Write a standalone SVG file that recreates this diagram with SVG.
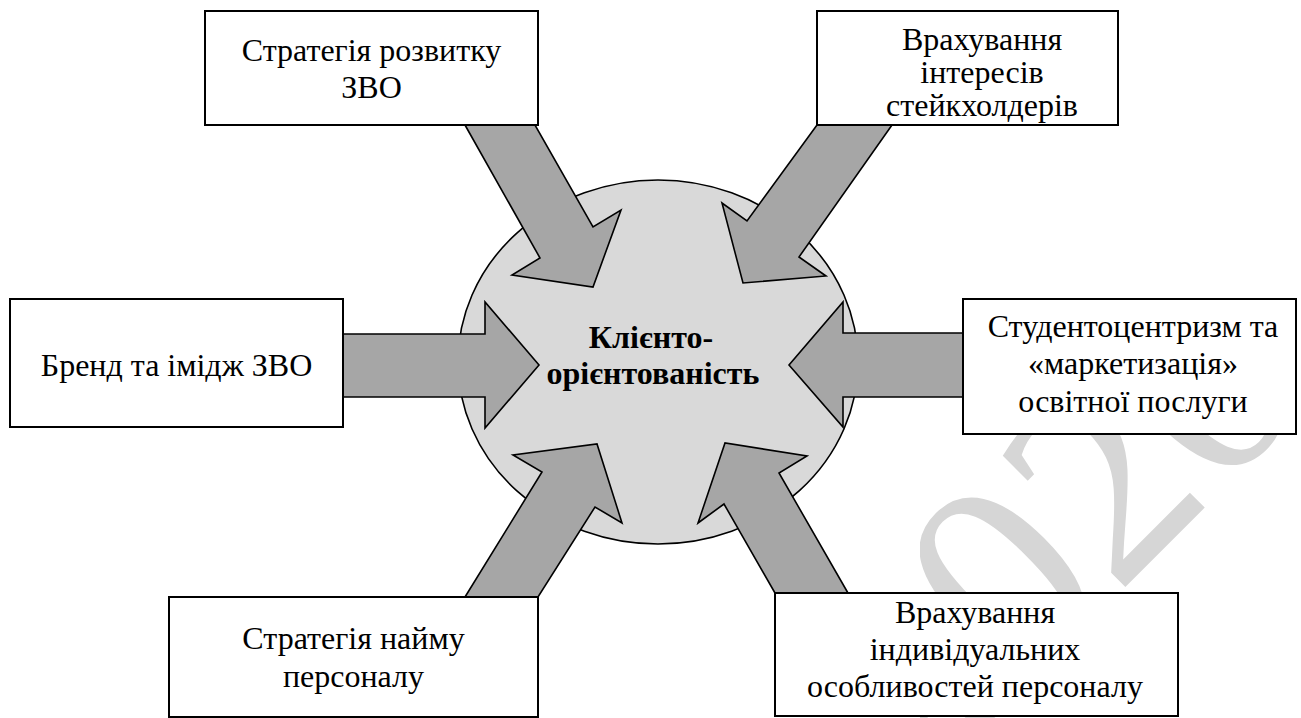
<svg xmlns="http://www.w3.org/2000/svg" width="1301" height="718" viewBox="0 0 1301 718">
  <style>
    .box { fill: #ffffff; stroke: #000000; stroke-width: 2; }
    .arrow { fill: #a6a6a6; stroke: #000000; stroke-width: 1.6; stroke-linejoin: miter; }
    .lbl { font-family: "Liberation Serif", "Liberation Sans", sans-serif; font-size: 32px; fill: #000000; text-anchor: middle; }
    .core { font-family: "Liberation Serif", "Liberation Sans", sans-serif; font-size: 32px; font-weight: bold; fill: #000000; text-anchor: middle; }
    .wm { font-family: "Liberation Serif", serif; font-size: 280px; fill: #d6d6d6; }
  </style>
  <defs>
    <clipPath id="wmclip"><rect x="920" y="420" width="381" height="298"/></clipPath>
  </defs>
  <rect width="1301" height="718" fill="#ffffff"/>
  <g id="watermark" clip-path="url(#wmclip)">
    <text class="wm" transform="translate(1000,578) rotate(-45)" x="-210" y="95">2020</text>
  </g>
  <g id="center">
    <ellipse cx="658" cy="362" rx="200" ry="182" fill="#d9d9d9" stroke="#000000" stroke-width="1.6"/>
  </g>
  <g id="connectors">
    <polygon class="arrow" points="465,125 540,258 512,275 593,287 621,210 593,227 535,125"/>
    <polygon class="arrow" points="817,125 747,221 722,203 743,283 826,276 799,257 892,125"/>
    <polygon class="arrow" points="343,334 485,334 485,302 539,365 485,428 485,397 343,397"/>
    <polygon class="arrow" points="963,333 843,333 843,302 789,365 843,427 843,397 963,397"/>
    <polygon class="arrow" points="465,597 542,472 513,455 597,444 622,523 595,507 538,597"/>
    <polygon class="arrow" points="775,593 724,504 698,523 725,443 807,456 779,473 848,593"/>
  </g>
  <g id="core-label">
    <text class="core" x="651" y="348">Клієнто-</text>
    <text class="core" x="653" y="384">орієнтованість</text>
  </g>
  <g id="node-strategy">
    <rect class="box" x="205" y="11" width="333" height="114"/>
    <text class="lbl" x="371.5" y="61">Стратегія розвитку</text>
    <text class="lbl" x="371.5" y="98">ЗВО</text>
  </g>
  <g id="node-stakeholders">
    <rect class="box" x="817" y="11" width="301" height="114"/>
    <text class="lbl" x="982" y="50">Врахування</text>
    <text class="lbl" x="982" y="83">інтересів</text>
    <text class="lbl" x="982" y="116">стейкхолдерів</text>
  </g>
  <g id="node-brand">
    <rect class="box" x="10" y="299" width="333" height="128"/>
    <text class="lbl" x="176.5" y="376">Бренд та імідж ЗВО</text>
  </g>
  <g id="node-student">
    <rect class="box" x="963" y="299" width="333" height="135"/>
    <text class="lbl" x="1133" y="337">Студентоцентризм та</text>
    <text class="lbl" x="1133" y="374">«маркетизація»</text>
    <text class="lbl" x="1133" y="412">освітної послуги</text>
  </g>
  <g id="node-hiring">
    <rect class="box" x="169" y="597" width="369" height="120"/>
    <text class="lbl" x="353.5" y="649">Стратегія найму</text>
    <text class="lbl" x="353.5" y="687">персоналу</text>
  </g>
  <g id="node-individual">
    <rect class="box" x="775" y="593" width="403" height="123"/>
    <text class="lbl" x="975" y="623">Врахування</text>
    <text class="lbl" x="975" y="660">індивідуальних</text>
    <text class="lbl" x="975" y="697">особливостей персоналу</text>
  </g>
</svg>
